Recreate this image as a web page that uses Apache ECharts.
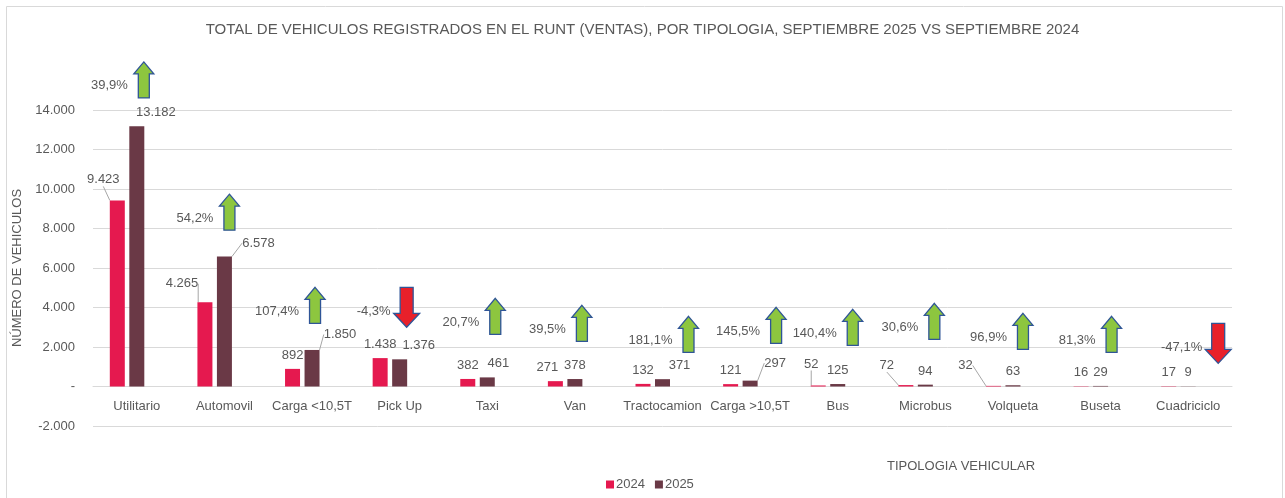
<!DOCTYPE html>
<html>
<head>
<meta charset="utf-8">
<script src="https://cdn.jsdelivr.net/npm/echarts@6/dist/echarts.min.js"></script>
<style>
  html, body { margin: 0; padding: 0; background: #fff; }
  #chart { width: 1285px; height: 498px; }
</style>
</head>
<body>
<div id="chart"></div>
<script>
// categorias y valores
const categories = ["Utilitario", "Automovil", "Carga <10,5T", "Pick Up", "Taxi", "Van", "Tractocamion",
  "Carga >10,5T", "Bus", "Microbus", "Volqueta", "Buseta", "Cuadriciclo"];
const sales2024 = [9423, 4265, 892, 1438, 382, 271, 132, 121, 52, 72, 32, 16, 17];
const sales2025 = [13182, 6578, 1850, 1376, 461, 378, 371, 297, 125, 94, 63, 29, 9];
const pctChange = [39.9, 54.2, 107.4, -4.3, 20.7, 39.5, 181.1, 145.5, 140.4, 30.6, 96.9, 81.3, -47.1];
const yTicks = { min: -2000, max: 14000, step: 2000 };

// desplazamiento de etiquetas (px) y lineas guia
const lblOff2024 = [[-14, -7], [-23, -5], [0, 0], [0, 0], [0, 0], [-8, 0], [0, 0], [0, 0], [-7, -8], [-19, -6], [-28, -7], [0, 0], [0, 0]];
const lblOff2025 = [[19, 0], [34, 0], [28, -2], [19, 0], [11, 0], [0, 0], [17, 0], [25, -4], [0, 0], [0, 0], [0, 0], [0, 0], [0, 0]];
const guide2024 = [1, 1, 0, 0, 0, 0, 0, 0, 1, 1, 1, 0, 0];
const guide2025 = [0, 1, 1, 0, 0, 0, 0, 1, 0, 0, 0, 0, 0];
// flechas: [dx desde el centro de la categoria, valor del borde superior]
const arrowLayout = [[7, 16435], [5, 9739], [3, 5022], [7, 5022], [8, 4464], [7, 4109], [26, 3551],
  [26, 4007], [15, 3906], [9, 4210], [10, 3703], [11, 3551], [30, 3196]];

const fmt = v => v === 0 ? "-" : v.toLocaleString("de-DE");
const txt = "#595959";
const font = "Liberation Sans, Arial, sans-serif";

function barData(vals, guides) {
  return vals.map((v, i) => ({ value: v, labelLine: { show: !!guides[i] } }));
}

const chart = echarts.init(document.getElementById("chart"));
chart.setOption({
  animation: false,
  textStyle: { fontFamily: font },
  title: {
    text: "TOTAL DE VEHICULOS REGISTRADOS EN EL RUNT (VENTAS), POR TIPOLOGIA, SEPTIEMBRE 2025 VS SEPTIEMBRE 2024",
    left: "center", top: 17,
    textStyle: { fontSize: 15, fontWeight: "normal", color: txt, fontFamily: font }
  },
  legend: {
    data: ["2024", "2025"],
    left: 601, top: 473,
    icon: "rect", itemWidth: 8, itemHeight: 8, itemGap: 10,
    textStyle: { fontSize: 13, color: txt, padding: [0, 0, 0, -3] }
  },
  grid: { left: 93, right: 53, top: 110, bottom: 72 },
  xAxis: {
    type: "category",
    data: categories,
    offset: -39.5,
    axisTick: { show: false },
    axisLine: { onZero: false, lineStyle: { color: "#d9d9d9" } },
    axisLabel: { color: txt, fontSize: 13, margin: 13, interval: 0 }
  },
  yAxis: {
    type: "value",
    min: yTicks.min, max: yTicks.max, interval: yTicks.step,
    name: "NÚMERO DE VEHICULOS",
    nameLocation: "middle", nameRotate: 90, nameGap: 58,
    nameTextStyle: { color: txt, fontSize: 13 },
    axisLine: { show: false },
    axisTick: { show: false },
    axisLabel: { color: txt, fontSize: 13, margin: 18, formatter: fmt },
    splitLine: { lineStyle: { color: "#d9d9d9" } }
  },
  graphic: [
    { type: "rect", shape: { x: 6.5, y: 6.5, width: 1276, height: 505 }, style: { fill: "none", stroke: "#d9d9d9", lineWidth: 1 } },
    { type: "text", left: 887, top: 460, style: { text: "TIPOLOGIA VEHICULAR", fill: txt, font: "13px " + font } }
  ],
  series: [
    {
      name: "2024", type: "bar", barWidth: 15, barGap: "30%",
      itemStyle: { color: "#E5194F" },
      data: barData(sales2024, guide2024),
      label: { show: true, position: "top", distance: 7, color: txt, fontSize: 13, formatter: p => fmt(p.value) },
      labelLayout: p => ({ dx: lblOff2024[p.dataIndex][0], dy: lblOff2024[p.dataIndex][1] }),
      labelLine: { lineStyle: { color: "#a6a6a6", width: 1 } }
    },
    {
      name: "2025", type: "bar", barWidth: 15, barGap: "30%",
      itemStyle: { color: "#6A3946" },
      data: barData(sales2025, guide2025),
      label: { show: true, position: "top", distance: 7, color: txt, fontSize: 13, formatter: p => fmt(p.value) },
      labelLayout: p => ({ dx: lblOff2025[p.dataIndex][0], dy: lblOff2025[p.dataIndex][1] }),
      labelLine: { lineStyle: { color: "#a6a6a6", width: 1 } }
    },
    {
      // serie oculta que ocupa el tercer hueco como en el original
      name: "pct", type: "bar", barWidth: 15, barGap: "30%",
      data: categories.map(() => "-")
    },
    {
      name: "variacion", type: "custom",
      data: pctChange.map((p, i) => [i, p]),
      encode: { x: 0, y: 1 },
      z: 10,
      renderItem: (params, api) => {
        const i = api.value(0), pct = api.value(1);
        const lay = arrowLayout[i];
        const pt = api.coord([i, lay[1]]);
        const cx = pt[0] + lay[0], top = pt[1];
        const up = pct >= 0;
        const w = up ? 20 : 26, h = up ? 36 : 40, sw = up ? 11 : 13, hh = up ? 12 : 14;
        const pts = up
          ? [[cx, top], [cx + w / 2, top + hh], [cx + sw / 2, top + hh], [cx + sw / 2, top + h],
             [cx - sw / 2, top + h], [cx - sw / 2, top + hh], [cx - w / 2, top + hh]]
          : [[cx - sw / 2, top], [cx + sw / 2, top], [cx + sw / 2, top + h - hh], [cx + w / 2, top + h - hh],
             [cx, top + h], [cx - w / 2, top + h - hh], [cx - sw / 2, top + h - hh]];
        return {
          type: "group",
          children: [
            { type: "polygon", shape: { points: pts },
              style: { fill: up ? "#8DC63F" : "#E8202A", stroke: "#2F5597", lineWidth: 1.3 } },
            { type: "text", x: cx - 16, y: top + 24,
              style: { text: pct.toFixed(1).replace(".", ",") + "%", align: "right", verticalAlign: "middle",
                fill: txt, font: "13px " + font } }
          ]
        };
      }
    }
  ]
});
</script>
</body>
</html>
